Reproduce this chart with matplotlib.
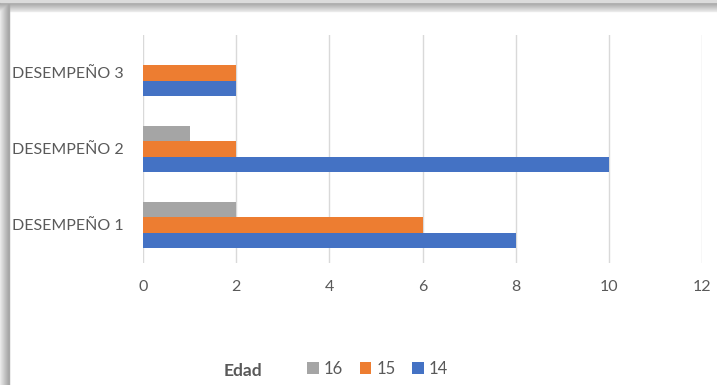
import matplotlib.pyplot as plt
import numpy as np
from matplotlib.patches import Rectangle

categories = ["DESEMPEÑO 1", "DESEMPEÑO 2", "DESEMPEÑO 3"]
ages = ["14", "15", "16"]
counts_14 = [8, 10, 2]
counts_15 = [6, 2, 2]
counts_16 = [2, 1, 0]
colors = ["#4472C4", "#ED7D31", "#A5A5A5"]
x_ticks = [0, 2, 4, 6, 8, 10, 12]

text_color = "#595959"
plt.rcParams["font.family"] = ["Lato", "DejaVu Sans"]

fig = plt.figure(figsize=(7.17, 3.85), dpi=100)

# soft drop-shadow frame along the top and left edges
for i, shade in enumerate(np.linspace(0.92, 0.66, 9)):
    fig.patches.append(Rectangle((0, 1 - (11 - i) / 385), 1, 1 / 385, transform=fig.transFigure,
                                 color=str(shade), zorder=0))
    fig.patches.append(Rectangle((i / 717, 0), 1 / 717, 1 - (11 - i) / 385, transform=fig.transFigure,
                                 color=str(shade), zorder=0))
for i in range(2):
    fig.patches.append(Rectangle((0, 1 - (2 - i) / 385), 1, 1 / 385, transform=fig.transFigure,
                                 color="0.86", zorder=0))

ax = fig.add_axes([143 / 717, 1 - 263 / 385, (702 - 143) / 717, (263 - 35) / 385])
ax.set_facecolor("none")

y = np.arange(len(categories))
h = 0.2
for offset, values, color, label in zip([-h, 0, h], [counts_14, counts_15, counts_16], colors, ages):
    ax.barh(y + offset, values, height=h, color=color, label=label, zorder=2)

ax.set_xlim(0, 12)
ax.set_ylim(-0.5, 2.5)
ax.set_xticks(x_ticks)
ax.set_yticks(y)
ax.set_yticklabels(categories)
ax.grid(axis="x", color="#D9D9D9", linewidth=1, zorder=0)
for side in ax.spines.values():
    side.set_visible(False)
ax.tick_params(length=0, labelsize=11.5, colors=text_color)
ax.tick_params(axis="x", pad=12)
ax.tick_params(axis="y", pad=14)

handles, labels = ax.get_legend_handles_labels()
fig.legend(handles[::-1], labels[::-1], loc="center left", bbox_to_anchor=(292 / 717, 1 - 369 / 385),
           ncol=3, frameon=False, fontsize=12, labelcolor=text_color, handlelength=0.7,
           handleheight=0.7, handletextpad=0.3, columnspacing=1.0)
fig.text(224 / 717, 1 - 371 / 385, "Edad", fontsize=12.5, fontweight="bold", color=text_color,
         va="center", ha="left")

fig.savefig("out.png", dpi=100)
